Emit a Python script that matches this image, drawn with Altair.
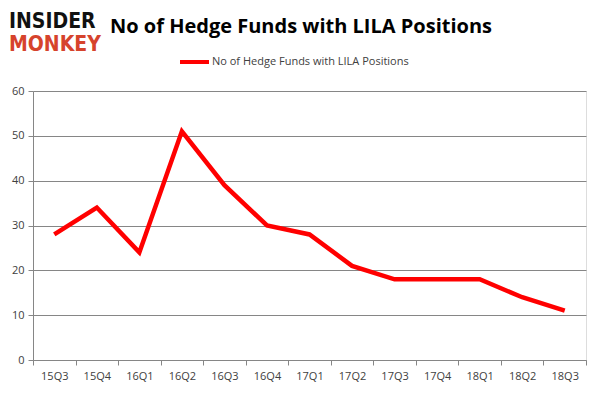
import altair as alt
import pandas as pd

quarters = ["15Q3", "15Q4", "16Q1", "16Q2", "16Q3", "16Q4", "17Q1",
            "17Q2", "17Q3", "17Q4", "18Q1", "18Q2", "18Q3"]
funds = [28, 34, 24, 51, 39, 30, 28, 21, 18, 18, 18, 14, 11]
title_text = "No of Hedge Funds with LILA Positions"
series_name = "No of Hedge Funds with LILA Positions"
y_ticks = [0, 10, 20, 30, 40, 50, 60]

df = pd.DataFrame({"quarter": quarters, "funds": funds})
one = pd.DataFrame({"a": [0]})

W, H = 553, 269
OX, OY = 33, 91  # page position of the plot origin


def rx(px):
    return px - OX


def ry(py):
    return py - OY


axis_common = dict(
    title=None,
    domainColor="#868686",
    tickColor="#868686",
    labelColor="#404040",
    labelFont="Open Sans",
    labelFontSize=11,
)

line = alt.Chart(df).mark_line(color="#ff0000", strokeWidth=4.5, strokeJoin="miter").encode(
    x=alt.X(
        "quarter:O",
        sort=quarters,
        scale=alt.Scale(type="band", paddingInner=0, paddingOuter=0),
        axis=alt.Axis(labelAngle=0, tickBand="extent", grid=False, tickSize=5,
                      labelPadding=5, **axis_common),
    ),
    y=alt.Y(
        "funds:Q",
        scale=alt.Scale(domain=[0, 60]),
        axis=alt.Axis(values=y_ticks, grid=True, gridColor="#868686", tickSize=5,
                      labelPadding=4, **axis_common),
    ),
)

logo1 = alt.Chart(one).mark_text(
    text="INSIDER", font="DejaVu Sans Condensed", fontWeight="bold", fontSize=21,
    align="left", baseline="alphabetic", color="#111111"
).encode(x=alt.value(rx(9)), y=alt.value(ry(28)))

logo2 = alt.Chart(one).mark_text(
    text="MONKEY", font="DejaVu Sans Condensed", fontWeight="bold", fontSize=21,
    align="left", baseline="alphabetic", color="#d6432c"
).encode(x=alt.value(rx(9)), y=alt.value(ry(51)))

title = alt.Chart(one).mark_text(
    text=title_text, font="Open Sans", fontWeight="bold", fontSize=20,
    align="center", baseline="alphabetic", color="#000000"
).encode(x=alt.value(rx(301)), y=alt.value(ry(33)))

leg_line = alt.Chart(one).mark_rule(color="#ff0000", strokeWidth=4).encode(
    x=alt.value(rx(180)), x2=alt.value(rx(209)), y=alt.value(ry(62))
)
leg_text = alt.Chart(one).mark_text(
    text=series_name, font="Open Sans", fontSize=11, align="left",
    baseline="middle", color="#404040"
).encode(x=alt.value(rx(212)), y=alt.value(ry(62)))

chart = alt.layer(line, logo1, logo2, title, leg_line, leg_text).properties(
    width=W, height=H,
    autosize=alt.AutoSizeParams(type="none"),
    padding={"left": OX - 8, "top": OY - 8, "right": 7, "bottom": 28},
).configure_view(stroke=None).configure(background="white")

chart.save("out.html", embed_options={"renderer": "svg", "actions": False})
